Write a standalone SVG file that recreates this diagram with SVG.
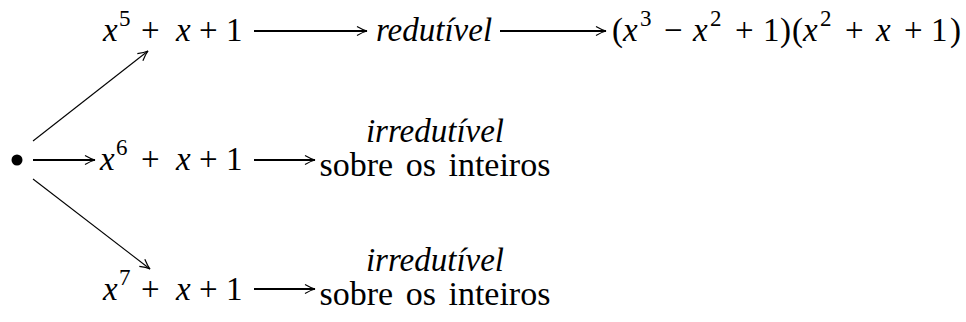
<svg xmlns="http://www.w3.org/2000/svg" width="966" height="322" viewBox="0 0 966 322">
<style>.h{stroke:#000;stroke-width:1.8;fill:none}.d{stroke:#000;stroke-width:1.1;fill:none}</style>
<defs>
<marker id="ah" viewBox="-12 -6 13 12" refX="0" refY="0" markerWidth="13" markerHeight="12" markerUnits="userSpaceOnUse" orient="auto">
<path d="M-10,-4.5 Q-4,-1 0,0 Q-4,1 -10,4.5" stroke="#000" stroke-width="1.2" fill="none"/>
</marker>
</defs>
<g id="connectors">
<line class="h" x1="254" y1="31" x2="367" y2="31" marker-end="url(#ah)"/>
<line class="h" x1="500" y1="31" x2="606" y2="31" marker-end="url(#ah)"/>
<line class="h" x1="33" y1="160" x2="95" y2="160" marker-end="url(#ah)"/>
<line class="h" x1="254" y1="160" x2="315" y2="160" marker-end="url(#ah)"/>
<line class="h" x1="254" y1="289" x2="315" y2="289" marker-end="url(#ah)"/>
<line class="d" x1="33" y1="141" x2="148" y2="51" marker-end="url(#ah)"/>
<line class="d" x1="33" y1="179" x2="150" y2="269" marker-end="url(#ah)"/>
</g>
<g id="root"><circle cx="17" cy="160" r="5.5" fill="#000"/></g>
<g id="x5" font-family="Liberation Serif">
<text font-family="Liberation Serif" font-size="33" y="41"><tspan font-style="italic" x="103">x</tspan><tspan font-size="23" x="119" y="26">5</tspan><tspan x="141" y="41">+</tspan><tspan font-style="italic" x="176">x</tspan><tspan x="199">+</tspan><tspan x="226">1</tspan></text>
</g>
<g id="red" font-family="Liberation Serif">
<text font-family="Liberation Serif" font-size="33" font-style="italic" x="376" y="41">redutível</text>
</g>
<g id="prod" font-family="Liberation Serif">
<text font-family="Liberation Serif" font-size="33" y="41"><tspan x="612">(</tspan><tspan font-style="italic" x="623">x</tspan><tspan font-size="23" x="640" y="26">3</tspan><tspan x="664" y="41">−</tspan><tspan font-style="italic" x="693">x</tspan><tspan font-size="23" x="710" y="26">2</tspan><tspan x="735" y="41">+</tspan><tspan x="763">1</tspan><tspan x="780">)</tspan><tspan x="792">(</tspan><tspan font-style="italic" x="803">x</tspan><tspan font-size="23" x="820" y="26">2</tspan><tspan x="845" y="41">+</tspan><tspan font-style="italic" x="876">x</tspan><tspan x="904">+</tspan><tspan x="931">1</tspan><tspan x="950">)</tspan></text>
</g>
<g id="x6" font-family="Liberation Serif">
<text font-family="Liberation Serif" font-size="33" y="170"><tspan font-style="italic" x="100">x</tspan><tspan font-size="23" x="116" y="155">6</tspan><tspan x="141" y="170">+</tspan><tspan font-style="italic" x="176">x</tspan><tspan x="199">+</tspan><tspan x="226">1</tspan></text>
</g>
<g id="irr6" font-family="Liberation Serif">
<text font-family="Liberation Serif" font-size="33" font-style="italic" x="435" y="142" text-anchor="middle">irredutível</text>
<text font-family="Liberation Serif" font-size="34" x="435" y="176" text-anchor="middle" word-spacing="4">sobre os inteiros</text>
</g>
<g id="x7" font-family="Liberation Serif">
<text font-family="Liberation Serif" font-size="33" y="300"><tspan font-style="italic" x="103">x</tspan><tspan font-size="23" x="119" y="285">7</tspan><tspan x="141" y="300">+</tspan><tspan font-style="italic" x="176">x</tspan><tspan x="199">+</tspan><tspan x="226">1</tspan></text>
</g>
<g id="irr7" font-family="Liberation Serif">
<text font-family="Liberation Serif" font-size="33" font-style="italic" x="435" y="271" text-anchor="middle">irredutível</text>
<text font-family="Liberation Serif" font-size="34" x="435" y="305" text-anchor="middle" word-spacing="4">sobre os inteiros</text>
</g>
</svg>
